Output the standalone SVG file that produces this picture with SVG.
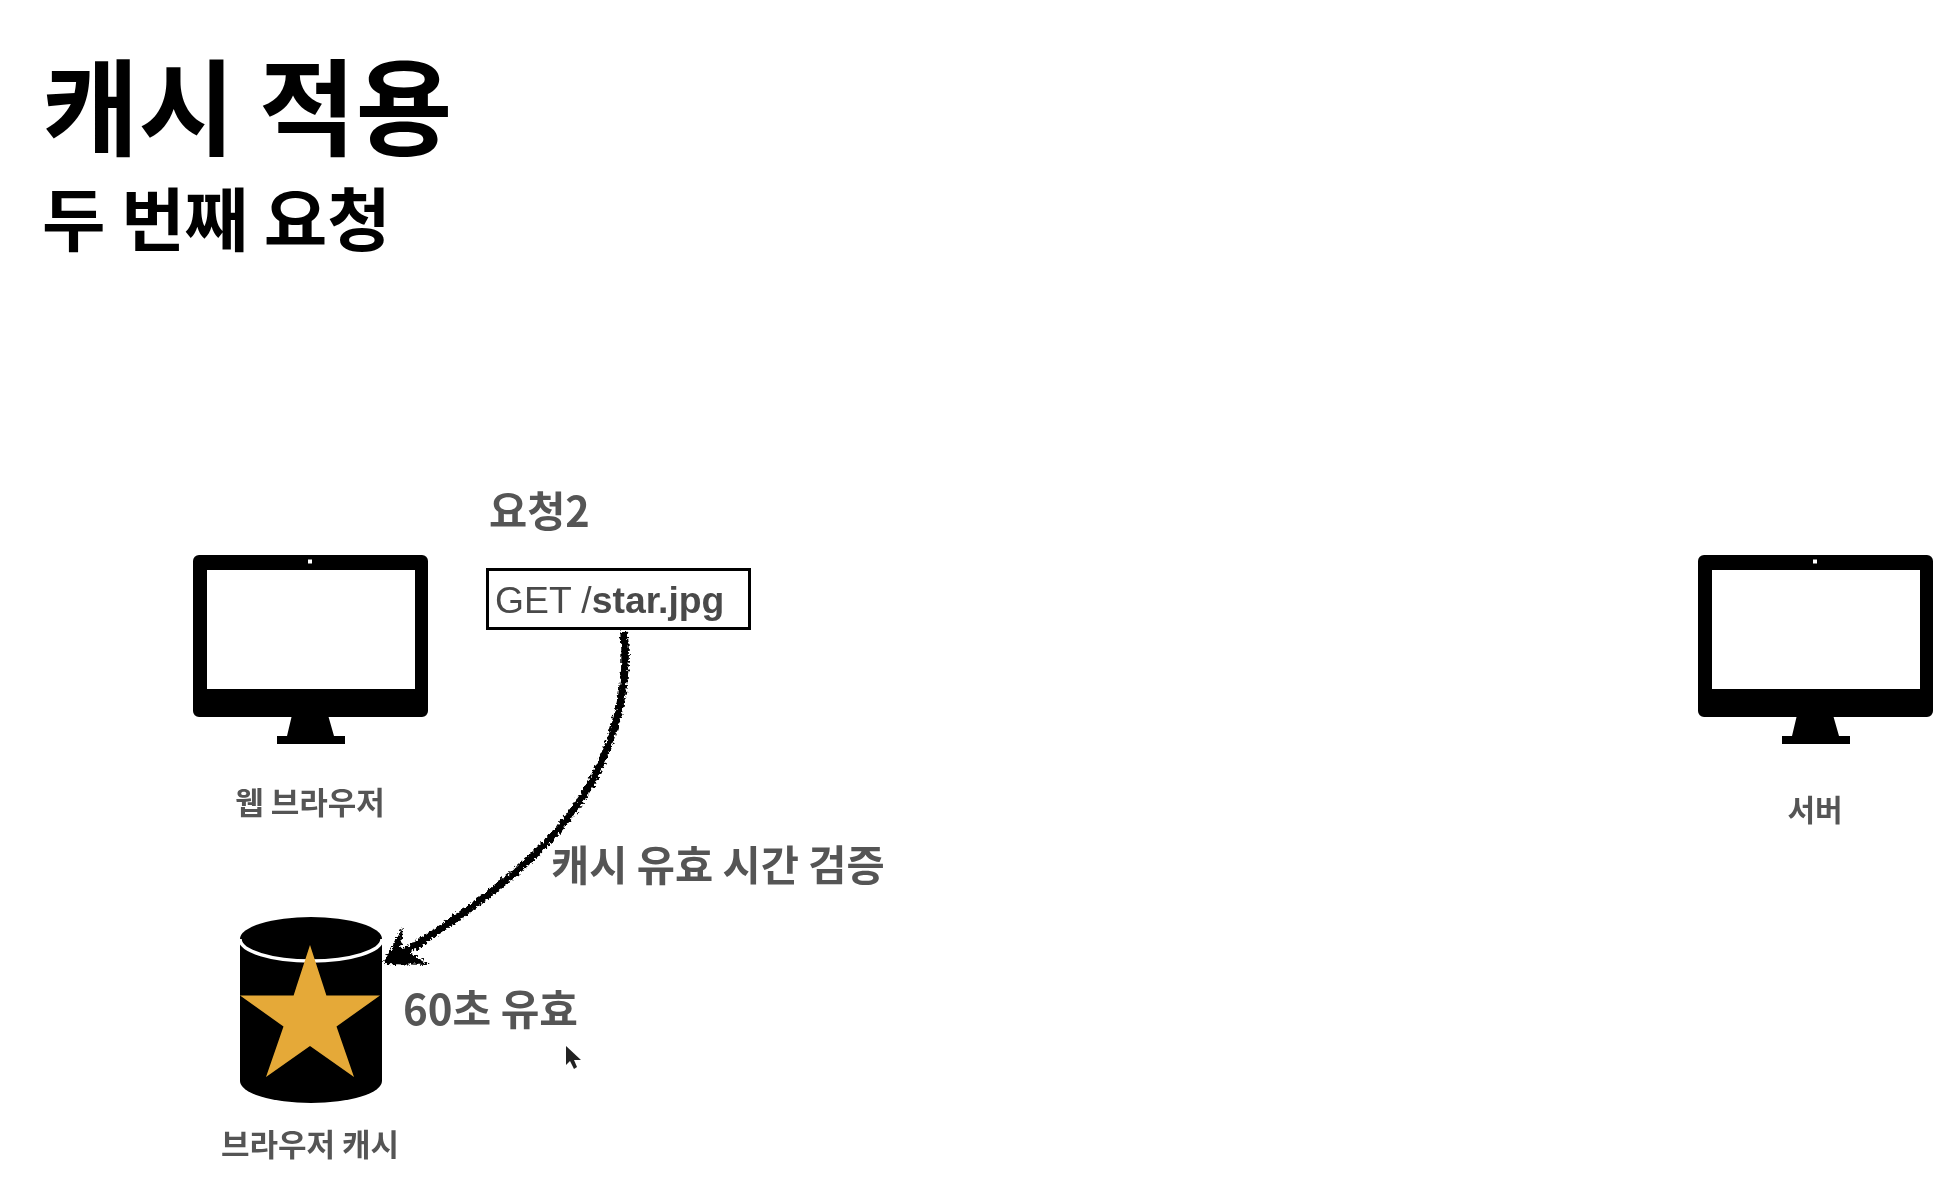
<svg xmlns="http://www.w3.org/2000/svg" width="1950" height="1184" viewBox="0 0 1950 1184">
<style>
text{font-family:"Noto Sans CJK KR","Noto Sans",sans-serif;font-weight:700;fill:#555}
.t{fill:#000}
.c{text-anchor:middle}
.e{font-family:"Liberation Sans",sans-serif;font-weight:400;fill:#4a4a4a}
</style>
<defs>
<filter id="soft" x="-5%" y="-5%" width="110%" height="110%"><feGaussianBlur stdDeviation="0.7"/></filter>
<filter id="rough" x="-10%" y="-10%" width="120%" height="120%"><feTurbulence type="fractalNoise" baseFrequency="0.35" numOctaves="2" seed="4"/><feDisplacementMap in="SourceGraphic" scale="7" xChannelSelector="R" yChannelSelector="G"/><feGaussianBlur stdDeviation="0.5"/></filter>
<g id="monitor">
<path fill="#000" fill-rule="evenodd" d="M6 0H229a6 6 0 0 1 6 6V156a6 6 0 0 1-6 6H6a6 6 0 0 1-6-6V6a6 6 0 0 1 6-6ZM14 15V134H222V15Z"/>
<path fill="#000" d="M99 160H135L141 181H152V189H84V181H94Z"/>
<rect x="115" y="4.500" width="4" height="4" fill="#fff"/>
</g>
</defs>
<rect width="1950" height="1184" fill="#fff"/>
<g filter="url(#soft)">
<g id="title">
<text class="t" x="42" y="147" font-size="105">캐시 적용</text>
<text class="t" x="42" y="246" font-size="69">두 번째 요청</text>
</g>
<g id="browser">
<use href="#monitor" x="193" y="555"/>
<text class="c" x="310" y="814" font-size="31">웹 브라우저</text>
</g>
<g id="server">
<use href="#monitor" x="1698" y="555"/>
<text class="c" x="1815" y="821" font-size="30">서버</text>
</g>
<g id="request">
<text x="489" y="527" font-size="41.500">요청2</text>
<rect x="487.500" y="569.500" width="262" height="59" fill="#fff" stroke="#000" stroke-width="3"/>
<text class="e" x="495" y="613" font-size="37.300">GET /<tspan font-weight="700">star.jpg</tspan></text>
</g>
<g id="cache">
<path fill="#000" d="M240 939A71 22 0 0 1 382 939V1081A71 22 0 0 1 240 1081Z"/>
<path fill="none" stroke="#fff" stroke-width="3.500" d="M240 939A71 22 0 0 0 382 939"/>
<polygon fill="#e5a937" points="310,945 326.400,995.400 380,995.400 336.500,1026.600 354,1077 310,1046 266,1077 283.500,1026.600 240,995.400 293.600,995.400"/>
<text class="c" x="310" y="1156" font-size="31">브라우저 캐시</text>
</g>
<g id="labels">
<text x="551" y="881" font-size="41.500">캐시 유효 시간 검증</text>
<text x="403" y="1025" font-size="42">60초 유효</text>
</g>
<path id="cursor" fill="#222" d="M566 1046V1065L570 1061L574 1069L577 1067L574 1060H581Z"/>
</g>
<g id="connectors" filter="url(#rough)">
<path fill="none" stroke="#000" stroke-width="7.500" d="M624 632C630 692 612 762 566 820C526 872 450 925 392 960"/>
<polygon fill="#000" points="383,964 403,926 401,948 430,965"/>
</g>
</svg>
